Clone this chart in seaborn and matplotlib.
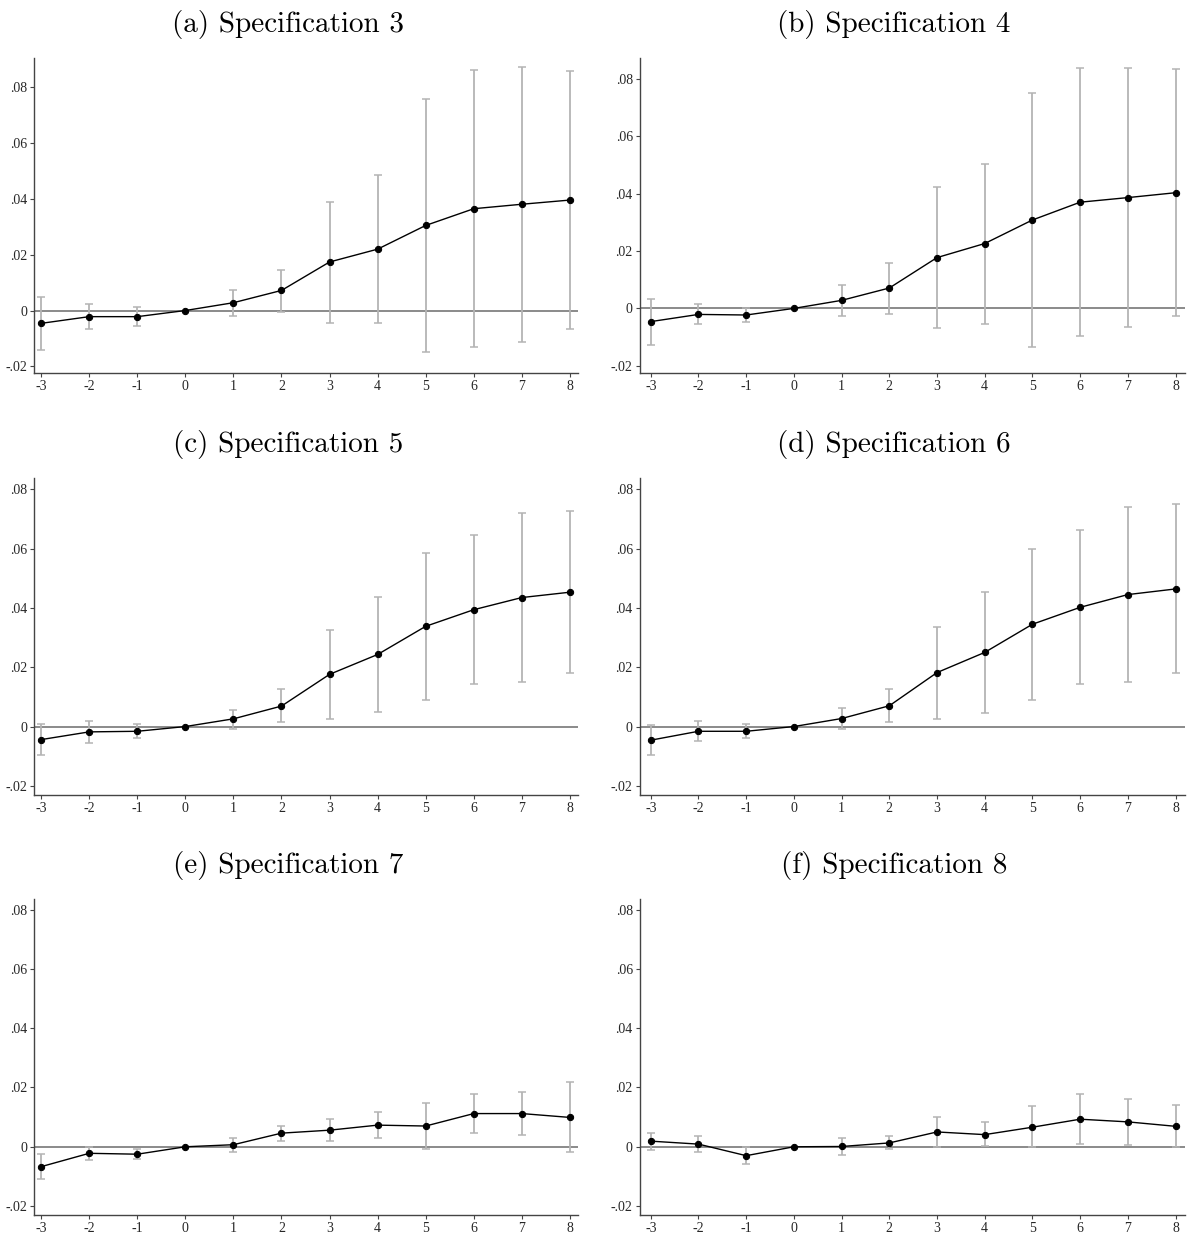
import numpy as np
import pandas as pd
import matplotlib
matplotlib.use('Agg')
import matplotlib.pyplot as plt
import seaborn as sns

# event time
periods = [-3, -2, -1, 0, 1, 2, 3, 4, 5, 6, 7, 8]

# (a) Specification 3
coef_a = [-0.0046, -0.0022, -0.0022, 0.0, 0.0028, 0.0072, 0.0174, 0.0220, 0.0305, 0.0365, 0.0381, 0.0396]
hi_a = [0.0049, 0.0025, 0.0011, np.nan, 0.0074, 0.0147, 0.0389, 0.0487, 0.0760, 0.0861, 0.0874, 0.0860]
lo_a = [-0.0141, -0.0067, -0.0055, np.nan, -0.0019, -0.0005, -0.0043, -0.0046, -0.0150, -0.0132, -0.0114, -0.0066]

# (b) Specification 4
coef_b = [-0.0046, -0.0021, -0.0023, 0.0, 0.0028, 0.0071, 0.0177, 0.0226, 0.0308, 0.0370, 0.0386, 0.0403]
hi_b = [0.0032, 0.0014, 0.0003, np.nan, 0.0082, 0.0159, 0.0422, 0.0504, 0.0751, 0.0838, 0.0838, 0.0835]
lo_b = [-0.0126, -0.0054, -0.0049, np.nan, -0.0027, -0.0019, -0.0067, -0.0054, -0.0133, -0.0097, -0.0064, -0.0027]

# (c) Specification 5
coef_c = [-0.0044, -0.0018, -0.0016, 0.0, 0.0026, 0.0069, 0.0176, 0.0243, 0.0338, 0.0394, 0.0435, 0.0453]
hi_c = [0.0008, 0.0019, 0.0007, np.nan, 0.0057, 0.0125, 0.0324, 0.0437, 0.0585, 0.0645, 0.0719, 0.0726]
lo_c = [-0.0097, -0.0055, -0.0040, np.nan, -0.0008, 0.0015, 0.0027, 0.0049, 0.0089, 0.0142, 0.0151, 0.0180]

# (d) Specification 6
coef_d = [-0.0046, -0.0016, -0.0016, 0.0, 0.0027, 0.0070, 0.0182, 0.0250, 0.0345, 0.0402, 0.0445, 0.0464]
hi_d = [0.0006, 0.0020, 0.0007, np.nan, 0.0061, 0.0127, 0.0337, 0.0455, 0.0599, 0.0663, 0.0742, 0.0750]
lo_d = [-0.0097, -0.0050, -0.0039, np.nan, -0.0008, 0.0015, 0.0026, 0.0047, 0.0089, 0.0142, 0.0151, 0.0181]

# (e) Specification 7
coef_e = [-0.0067, -0.0022, -0.0025, 0.0, 0.0007, 0.0046, 0.0056, 0.0073, 0.0070, 0.0112, 0.0112, 0.0099]
hi_e = [-0.0023, 0.0000, -0.0009, np.nan, 0.0031, 0.0069, 0.0092, 0.0118, 0.0149, 0.0179, 0.0184, 0.0217]
lo_e = [-0.0109, -0.0046, -0.0041, np.nan, -0.0019, 0.0021, 0.0021, 0.0029, -0.0007, 0.0045, 0.0039, -0.0018]

# (f) Specification 8
coef_f = [0.0019, 0.0009, -0.0030, 0.0, 0.0001, 0.0013, 0.0050, 0.0041, 0.0066, 0.0093, 0.0084, 0.0069]
hi_f = [0.0048, 0.0038, -0.0002, np.nan, 0.0031, 0.0036, 0.0102, 0.0082, 0.0136, 0.0178, 0.0162, 0.0142]
lo_f = [-0.0011, -0.0019, -0.0058, np.nan, -0.0029, -0.0008, -0.0001, 0.0001, -0.0002, 0.0009, 0.0006, -0.0002]

titles = ["(a) Specification 3", "(b) Specification 4", "(c) Specification 5",
          "(d) Specification 6", "(e) Specification 7", "(f) Specification 8"]
ytick_vals = [-0.02, 0, 0.02, 0.04, 0.06, 0.08]
ytick_labels = ["-.02", "0", ".02", ".04", ".06", ".08"]
xtick_labels = [str(p) for p in periods]

panels = [(coef_a, lo_a, hi_a), (coef_b, lo_b, hi_b), (coef_c, lo_c, hi_c),
          (coef_d, lo_d, hi_d), (coef_e, lo_e, hi_e), (coef_f, lo_f, hi_f)]

sns.set_theme(style="ticks")
plt.rcParams['font.family'] = ['Liberation Serif', 'DejaVu Serif']

fig = plt.figure(figsize=(11.87, 12.36), dpi=100)

# axes boxes in figure fractions (left, bottom, width, height)
lefts = [0.0286, 0.539]
widths = [0.4584, 0.459]
rows = [(0.698, 0.255), (0.357, 0.256), (0.017, 0.256)]
ylims = [(-0.0225, 0.0905), (-0.0226, 0.0872), (-0.023, 0.0837),
         (-0.023, 0.0837), (-0.023, 0.0837), (-0.023, 0.0837)]
xlims = [(-3.15, 8.17), (-3.23, 8.19)]
title_x = [0.243, 0.753]
title_y = [0.980, 0.640, 0.300]

for i, (coef, lo, hi) in enumerate(panels):
    r, c = divmod(i, 2)
    ax = fig.add_axes([lefts[c], rows[r][0], widths[c], rows[r][1]])
    df = pd.DataFrame({"period": periods, "coef": coef, "lo": lo, "hi": hi})

    ax.axhline(0, color="#6b6b6b", lw=1.1, zorder=1)
    ok = df["lo"].notna()
    ax.errorbar(df.loc[ok, "period"], (df.loc[ok, "lo"] + df.loc[ok, "hi"]) / 2,
                yerr=(df.loc[ok, "hi"] - df.loc[ok, "lo"]) / 2,
                fmt="none", ecolor="#b4b4b4", elinewidth=1.3, capsize=3,
                capthick=1.1, zorder=2)
    sns.lineplot(data=df, x="period", y="coef", ax=ax, color="black", lw=1.0,
                 marker="o", markersize=4.5, markeredgecolor="black", zorder=3)

    ax.set_xlim(*xlims[c])
    ax.set_ylim(*ylims[i])
    ax.set_xticks(periods)
    ax.set_xticklabels(xtick_labels)
    ax.set_yticks(ytick_vals)
    ax.set_yticklabels(ytick_labels)
    ax.set_xlabel("")
    ax.set_ylabel("")
    sns.despine(ax=ax)
    for s in ["left", "bottom"]:
        ax.spines[s].set_color("#444444")
        ax.spines[s].set_linewidth(1.0)
    ax.tick_params(axis="both", labelsize=10, length=3, width=0.8,
                   color="#444444", pad=2)

    fig.text(title_x[c], title_y[r], titles[i], ha="center", va="center",
             family="cmr10", fontsize=21, color="black")

fig.savefig("out.png", dpi=100, facecolor="white")
